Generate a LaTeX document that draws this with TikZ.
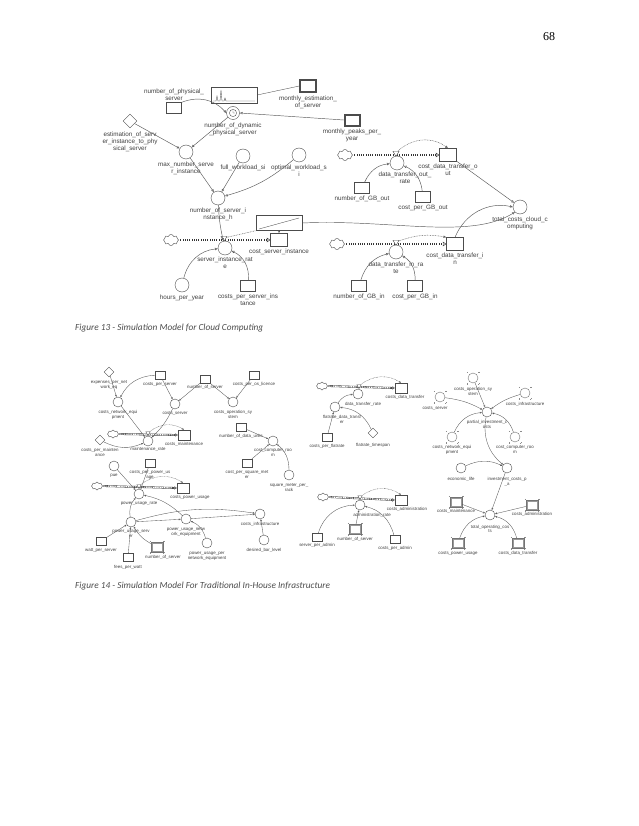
\documentclass[tikz,border=0pt]{standalone}
\usepackage{fontspec}
\setmainfont{Liberation Serif}
\newfontfamily\sdfont{Liberation Sans}
\newfontfamily\capfont{Carlito}
\usetikzlibrary{positioning,shapes.geometric,shapes.symbols,arrows.meta}

\tikzset{
  lbl/.style={font=\sdfont\fontsize{6.3}{6.8}\selectfont, align=center, inner sep=0pt, text=black!75},
  slbl/.style={font=\sdfont\fontsize{4.4}{4.9}\selectfont, align=center, inner sep=0pt, text=black!75},
  aux/.style={circle, draw=black!70, fill=white, minimum size=14pt, inner sep=0pt},
  saux/.style={aux, minimum size=10pt},
  const/.style={rectangle, draw=black!70, fill=white, minimum width=15pt, minimum height=11pt, inner sep=0pt},
  sconst/.style={const, minimum width=10pt, minimum height=8pt},
  stockbox/.style={rectangle, draw=black!70, fill=white, minimum width=17pt, minimum height=13pt, inner sep=0pt},
  sstock/.style={stockbox, minimum width=12pt, minimum height=10pt},
  ghostbox/.style={sconst, draw=black!55, minimum width=12pt, minimum height=10pt},
  gaux/.style={saux, draw=black!55},
  param/.style={diamond, draw=black!70, fill=white, aspect=1, minimum size=14pt, inner sep=0pt},
  sparam/.style={param, minimum size=10pt},
  source/.style={cloud, cloud puffs=8, aspect=1.4, draw=black!70, fill=white, minimum width=15pt, minimum height=11pt, inner sep=0pt},
  ssource/.style={source, minimum width=11pt, minimum height=8pt},
  valve/.style={regular polygon, regular polygon sides=3, shape border rotate=180, draw=black!70, fill=white, minimum size=7pt, inner sep=0pt},
  svalve/.style={valve, minimum size=5pt},
  graphbox/.style={rectangle, draw=black!70, fill=white, inner sep=0pt},
  trace/.style={draw=black!70, line width=0.35pt},
  ghostframe/.style={draw=black!40, line width=0.25pt},
  link/.style={draw=black!65, line width=0.45pt, -{Triangle[open, length=2.8pt, width=2.4pt]}},
  slink/.style={link, line width=0.35pt, -{Triangle[open, length=2pt, width=1.8pt]}},
  info/.style={link, dash pattern=on 0.8pt off 0.8pt},
  sinfo/.style={slink, dash pattern=on 0.7pt off 0.7pt},
  pipe/.style={line width=2.6pt, draw=black!80, -{Triangle[open, length=3.5pt, width=4.5pt, line width=0.5pt]},
    postaction={draw=white, -, line width=1.1pt, dash pattern=on 0.9pt off 0.9pt, shorten >=4pt}},
  spipe/.style={pipe, line width=1.8pt, -{Triangle[open, length=2.5pt, width=3.2pt, line width=0.4pt]},
    postaction={draw=white, -, line width=0.7pt, dash pattern=on 0.7pt off 0.7pt, shorten >=3pt}},
  ghostmark/.style={draw=black!45, line width=0.25pt},
  capt/.style={font=\capfont\itshape\fontsize{9.3}{11}\selectfont, text=black!70, inner sep=0pt},
  pagenum/.style={font=\fontsize{12}{14}\selectfont, inner sep=0pt},
}

% corner ticks of a shadow variable
\newcommand{\ghostmarks}[1]{%
  \foreach \vv/\hh/\dx/\dy in {north/west/-1/1, north/east/1/1, south/west/-1/-1, south/east/1/-1}{%
    \coordinate (gc) at (#1.\vv -| #1.\hh);
    \draw[ghostmark] ([shift={(\dx*1pt,\dy*1pt)}]gc) -- ++(-\dx*1.6pt,0pt)
      ([shift={(\dx*1pt,\dy*1pt)}]gc) -- ++(0pt,-\dy*1.6pt);}}
% second frame inside a box
\newcommand{\innerframe}[2][trace]{%
  \draw[#1] ([shift={(1.2pt,-1.2pt)}]#2.north west) rectangle ([shift={(-1.2pt,1.2pt)}]#2.south east);}

\begin{document}
\begin{tikzpicture}[x=1pt, y=-1pt]

  % Page
  \path[fill=white, use as bounding box] (0,0) rectangle (638,826);
  \node[pagenum] (pgno) at (549,37) {68};

  % ===== Figure 13 =====
  % Physical servers
  \node[const] (nphys) at (174,108) {};
  \node[lbl, above=2pt] (nphys-l) at (nphys.north) {number\_of\_physical\_\\server};
  \node[graphbox, minimum width=46pt, minimum height=16pt] (lookA) at (234,95) {};
  \draw[trace] (213,101) -- (216,101) -- (217,96) -- (218,101) -- (220,101) -- (221,90)
    -- (222,101) -- (224,101) -- (225,98) -- (226,101) -- (255,101);
  \node[aux, minimum size=13pt] (dyn) at (233,113) {};
  \draw[trace] (dyn) circle (3.6pt) (dyn.center) -- ++(0pt,2.4pt) (dyn.center) -- ++(1.8pt,0pt);
  \node[lbl, below=3pt] (dyn-l) at (dyn.south) {number\_of\_dynamic\\\_physical\_server};
  \node[stockbox] (monest) at (308,86) {};
  \innerframe{monest}
  \fill[black!70] (monest.north west) rectangle ++(2.2pt,-2.2pt);
  \node[lbl, below=3pt] (monest-l) at (monest.south) {monthly\_estimation\_\\of\_server};
  \node[stockbox, minimum width=16pt, minimum height=12pt] (monpk) at (352,120) {};
  \innerframe{monpk}
  \fill[black!70] (monpk.north west) rectangle ++(2.2pt,-2.2pt);
  \node[lbl, below=3pt] (monpk-l) at (monpk.south) {monthly\_peaks\_per\_\\year};

  % Server instances
  \node[param] (estim) at (130,121) {};
  \node[lbl, below=4pt] (estim-l) at (estim.south) {estimation\_of\_serv\\er\_instance\_to\_phy\\sical\_server};
  \node[aux] (maxn) at (186,152) {};
  \node[lbl, below=3pt] (maxn-l) at (maxn.south) {max\_number\_serve\\r\_instance};
  \node[aux] (fullw) at (243,156) {};
  \node[lbl, below=2pt] (fullw-l) at (fullw.south) {full\_workload\_si};
  \node[aux] (optw) at (299,155) {};
  \node[lbl, below=3pt] (optw-l) at (optw.south) {optimal\_workload\_s\\i};
  \node[aux] (nsih) at (218,198) {};
  \node[lbl, below=3pt] (nsih-l) at (nsih.south) {number\_of\_server\_i\\nstance\_h};

  % Server instance flow
  \node[source] (cloudA) at (171,240) {};
  \node[stockbox] (csi) at (279,240) {};
  \node[lbl, below=2pt] (csi-l) at (csi.south) {cost\_server\_instance};
  \draw[pipe] (cloudA.east) -- (csi.west);
  \node[valve] (vA) at (224,238) {};
  \node[aux] (sir) at (225,248) {};
  \node[lbl, below=2pt] (sir-l) at (sir.south) {server\_instance\_rat\\e};
  \node[graphbox, minimum width=46pt, minimum height=15pt] (lookB) at (279,223) {};
  \draw[trace] (259,229) -- (299,218);
  \node[aux] (hpy) at (182,285) {};
  \node[lbl, below=3pt] (hpy-l) at (hpy.south) {hours\_per\_year};
  \node[const] (cpsi) at (248,286) {};
  \node[lbl, below=2pt] (cpsi-l) at (cpsi.south) {costs\_per\_server\_ins\\tance};

  % Data transfer out
  \node[source] (cloudB) at (345,155) {};
  \node[stockbox] (cdto) at (448,155) {};
  \node[lbl, below=2pt] (cdto-l) at (cdto.south) {cost\_data\_transfer\_o\\ut};
  \draw[pipe] (cloudB.east) -- (cdto.west);
  \node[valve] (vB) at (396,153) {};
  \node[aux] (dtor) at (397,163) {};
  \node[lbl, below=2pt, xshift=8pt] (dtor-l) at (dtor.south) {data\_transfer\_out\_\\rate};
  \node[const] (gbout) at (362,188) {};
  \node[lbl, below=2pt] (gbout-l) at (gbout.south) {number\_of\_GB\_out};
  \node[const] (cpgbo) at (423,197) {};
  \node[lbl, below=2pt] (cpgbo-l) at (cpgbo.south) {cost\_per\_GB\_out};
  \node[aux] (total) at (520,207) {};
  \node[lbl, below=3pt] (total-l) at (total.south) {total\_costs\_cloud\_c\\omputing};

  % Data transfer in
  \node[source] (cloudC) at (337,244) {};
  \node[stockbox] (cdti) at (455,244) {};
  \node[lbl, below=2pt] (cdti-l) at (cdti.south) {cost\_data\_transfer\_i\\n};
  \draw[pipe] (cloudC.east) -- (cdti.west);
  \node[valve] (vC) at (396,242) {};
  \node[aux] (dtir) at (396,252) {};
  \node[lbl, below=3pt] (dtir-l) at (dtir.south) {data\_transfer\_in\_ra\\te};
  \node[const] (gbin) at (359,286) {};
  \node[lbl, below=2pt] (gbin-l) at (gbin.south) {number\_of\_GB\_in};
  \node[const] (cpgbi) at (415,286) {};
  \node[lbl, below=2pt] (cpgbi-l) at (cpgbi.south) {cost\_per\_GB\_in};

  % Connections
  \draw[link] (nphys.north east) to[bend left=35] (dyn.west);
  \draw[link] (monpk.west) -- (dyn.east);
  \draw[trace] (lookA.east) -- (monest.west);
  \draw[link] (estim) -- (maxn);
  \draw[link] (dyn) -- (maxn);
  \draw[link] (maxn) -- (nsih);
  \draw[link] (fullw) -- (nsih);
  \draw[link] (optw) to[bend left=12] (nsih);
  \draw[link] (nsih) to[bend right=5] (sir);
  \draw[link] (hpy) to[bend left=35] (sir);
  \draw[link] (cpsi) to[bend right=35] (sir);
  \draw[info, -] (vA) -- (lookB.south west);
  \draw[link] (lookB.south) -- (csi.north);
  \draw[link] (lookB.east) .. controls (390,219) and (470,240) .. (total.south west);
  \draw[info] (vB) to[bend left=40] (cdto.north);
  \draw[link] (gbout) to[bend left=30] (dtor);
  \draw[link] (cpgbo) to[bend right=30] (dtor);
  \draw[link] (cdto) -- (total);
  \draw[info] (vC) to[bend left=15] (cdti.north west);
  \draw[link] (gbin) to[bend left=30] (dtir);
  \draw[link] (cpgbi) to[bend right=30] (dtir);
  \draw[link] (cdti.north) to[bend left=40] (total.west);

  % Caption
  \node[capt, anchor=west] (cap13) at (75,328) {Figure 13 - Simulation Model for Cloud Computing};

  % ===== Figure 14 =====
  % Server costs
  \node[sparam] (expnet) at (109,372) {};
  \node[slbl, below=3pt] (expnet-l) at (expnet.south) {expenses\_per\_net\\work\_eq};
  \node[sconst] (cps) at (160,375) {};
  \node[slbl, below=3pt] (cps-l) at (cps.south) {costs\_per\_server};
  \node[sconst] (nos) at (205,379) {};
  \node[slbl, below=2pt] (nos-l) at (nos.south) {number\_of\_server};
  \node[sconst] (cpos) at (254,375) {};
  \node[slbl, below=3pt] (cpos-l) at (cpos.south) {costs\_per\_os\_licence};
  \node[saux] (cne) at (118,402) {};
  \node[slbl, below=3pt] (cne-l) at (cne.south) {costs\_network\_equi\\pment};
  \node[saux] (csrv) at (175,404) {};
  \node[slbl, below=2pt] (csrv-l) at (csrv.south) {costs\_server};
  \node[saux] (cos) at (233,402) {};
  \node[slbl, below=3pt] (cos-l) at (cos.south) {costs\_operation\_sy\\stem};

  % Maintenance flow
  \node[ssource] (cloudD) at (113,434) {};
  \node[sstock] (cmaint) at (184,435) {};
  \node[slbl, below=1.5pt] (cmaint-l) at (cmaint.south) {costs\_maintenance};
  \draw[spipe] (cloudD.east) -- (cmaint.west);
  \node[svalve] (vD) at (148,433) {};
  \node[saux] (mrate) at (148,441) {};
  \node[slbl, below=1pt] (mrate-l) at (mrate.south) {maintenance\_rate};
  \node[sparam] (cpm) at (100,440) {};
  \node[slbl, below=3pt] (cpm-l) at (cpm.south) {costs\_per\_mainten\\ance};

  % Computer room
  \node[sconst] (ndu) at (241,427) {};
  \node[slbl, below=3pt] (ndu-l) at (ndu.south) {number\_of\_data\_units};
  \node[saux] (ccr) at (273,441) {};
  \node[slbl, below=2pt] (ccr-l) at (ccr.south) {cost\_computer\_roo\\m};
  \node[sconst] (cpsm) at (247,463) {};
  \node[slbl, below=3pt] (cpsm-l) at (cpsm.south) {cost\_per\_square\_met\\er};
  \node[saux] (smpr) at (289,475) {};
  \node[slbl, below=3.5pt] (smpr-l) at (smpr.south) {square\_meter\_per\_\\rack};

  % Power usage flow
  \node[saux] (pue) at (114,466) {};
  \node[slbl, below=3pt] (pue-l) at (pue.south) {pue};
  \node[sconst] (cppu) at (150,463) {};
  \node[slbl, below=3pt] (cppu-l) at (cppu.south) {costs\_per\_power\_us\\age};
  \node[ssource] (cloudE) at (97,486) {};
  \node[sstock] (cpu) at (183,488) {};
  \node[slbl, below=2pt, xshift=7pt] (cpu-l) at (cpu.south) {costs\_power\_usage};
  \draw[spipe] (cloudE.east) -- (cpu.west);
  \node[svalve] (vE) at (139,486) {};
  \node[saux] (purate) at (139,494) {};
  \node[slbl, below=2pt] (purate-l) at (purate.south) {power\_usage\_rate};
  \node[saux] (pus) at (131,522) {};
  \node[slbl, below=3pt] (pus-l) at (pus.south) {power\_usage\_serv\\er};
  \node[saux] (pune) at (186,519) {};
  \node[slbl, below=3.5pt] (pune-l) at (pune.south) {power\_usage\_netw\\ork\_equipment};
  \node[saux] (cinf) at (260,514) {};
  \node[slbl, below=3pt] (cinf-l) at (cinf.south) {costs\_infrastructure};
  \node[sconst] (wps) at (101,541) {};
  \node[slbl, below=3pt] (wps-l) at (wps.south) {watt\_per\_server};
  \node[sconst] (fpw) at (128,557) {};
  \node[slbl, below=3.5pt] (fpw-l) at (fpw.south) {fees\_per\_watt};
  \node[ghostbox] (nos2) at (157,547) {};
  \innerframe[ghostframe]{nos2}
  \ghostmarks{nos2}
  \node[slbl, below=3pt, xshift=6pt] (nos2-l) at (nos2.south) {number\_of\_server};
  \node[saux] (pupne) at (207,543) {};
  \node[slbl, below=4pt] (pupne-l) at (pupne.south) {power\_usage\_per\\network\_equipment};
  \node[saux] (dbl) at (264,540) {};
  \node[slbl, below=3pt] (dbl-l) at (dbl.south) {desired\_bar\_level};

  % Data transfer flow
  \node[ssource] (cloudF) at (322,386) {};
  \node[sstock] (cdt) at (401,388) {};
  \node[slbl, below=2pt, xshift=4pt] (cdt-l) at (cdt.south) {costs\_data\_transfer};
  \draw[spipe] (cloudF.east) -- (cdt.west);
  \node[svalve] (vF) at (359,386) {};
  \node[saux] (dtr) at (358,394) {};
  \node[slbl, below=2.5pt, xshift=5pt] (dtr-l) at (dtr.south) {data\_transfer\_rate};
  \node[saux] (fdt) at (335,407) {};
  \node[slbl, below=3pt, xshift=7pt] (fdt-l) at (fdt.south) {flatrate\_data\_transf\\er};
  \node[sconst] (cpf) at (327,437) {};
  \node[slbl, below=3pt] (cpf-l) at (cpf.south) {costs\_per\_flatrate};
  \node[sparam] (fts) at (373,433) {};
  \node[slbl, below=4.5pt] (fts-l) at (fts.south) {flatrate\_timespan};

  % Administration flow
  \node[ssource] (cloudG) at (323,497) {};
  \node[sstock] (cadm) at (401,500) {};
  \node[slbl, below=1.5pt, xshift=6pt] (cadm-l) at (cadm.south) {costs\_administration};
  \draw[spipe] (cloudG.east) -- (cadm.west);
  \node[svalve] (vG) at (360,497) {};
  \node[saux] (arate) at (360,505) {};
  \node[slbl, below=3pt, xshift=12pt] (arate-l) at (arate.south) {administration\_rate};
  \node[sconst] (spa) at (317,537) {};
  \node[slbl, below=2pt] (spa-l) at (spa.south) {server\_per\_admin};
  \node[ghostbox] (nos3) at (355,529) {};
  \innerframe[ghostframe]{nos3}
  \ghostmarks{nos3}
  \node[slbl, below=3pt] (nos3-l) at (nos3.south) {number\_of\_server};
  \node[sconst] (cpa) at (395,539) {};
  \node[slbl, below=3pt] (cpa-l) at (cpa.south) {costs\_per\_admin};

  % Investment and operating costs
  \node[gaux] (gcos) at (473,378) {};
  \ghostmarks{gcos}
  \node[slbl, below=4pt] (gcos-l) at (gcos.south) {costs\_operation\_sy\\stem};
  \node[gaux] (gcsrv) at (440,397) {};
  \ghostmarks{gcsrv}
  \node[slbl, below=4pt, xshift=-5pt] (gcsrv-l) at (gcsrv.south) {costs\_server};
  \node[gaux] (gcinf) at (525,393) {};
  \ghostmarks{gcinf}
  \node[slbl, below=4pt] (gcinf-l) at (gcinf.south) {costs\_infrastructure};
  \node[saux] (pic) at (487,412) {};
  \node[slbl, below=3pt] (pic-l) at (pic.south) {partial\_investment\_c\\osts};
  \node[gaux] (gcne) at (452,437) {};
  \ghostmarks{gcne}
  \node[slbl, below=3pt] (gcne-l) at (gcne.south) {costs\_network\_equi\\pment};
  \node[gaux] (gccr) at (515,437) {};
  \ghostmarks{gccr}
  \node[slbl, below=3pt] (gccr-l) at (gccr.south) {cost\_computer\_roo\\m};
  \node[saux] (el) at (461,468) {};
  \node[slbl, below=4pt] (el-l) at (el.south) {economic\_life};
  \node[saux] (icpa) at (507,468) {};
  \node[slbl, below=4pt] (icpa-l) at (icpa.south) {investment\_costs\_p\\\_a};
  \node[saux] (toc) at (490,515) {};
  \node[slbl, below=4.5pt] (toc-l) at (toc.south) {total\_operating\_cos\\ts};
  \node[ghostbox] (gcm) at (456,502) {};
  \innerframe[ghostframe]{gcm}
  \ghostmarks{gcm}
  \node[slbl, below=2pt] (gcm-l) at (gcm.south) {costs\_maintenance};
  \node[ghostbox] (gcadm) at (532,505) {};
  \innerframe[ghostframe]{gcadm}
  \ghostmarks{gcadm}
  \node[slbl, below=2pt] (gcadm-l) at (gcadm.south) {costs\_administration};
  \node[ghostbox] (gcpu) at (458,543) {};
  \innerframe[ghostframe]{gcpu}
  \ghostmarks{gcpu}
  \node[slbl, below=3pt] (gcpu-l) at (gcpu.south) {costs\_power\_usage};
  \node[ghostbox] (gcdt) at (518,543) {};
  \innerframe[ghostframe]{gcdt}
  \ghostmarks{gcdt}
  \node[slbl, below=3pt] (gcdt-l) at (gcdt.south) {costs\_data\_transfer};

  % Connections
  \draw[slink] (expnet) -- (cne);
  \draw[slink] (cps) to[bend right=30] (cne);
  \draw[slink] (cps) -- (csrv);
  \draw[slink] (nos) -- (csrv);
  \draw[slink] (nos) -- (cos);
  \draw[slink] (cpos) -- (cos);
  \draw[sinfo] (vD) to[bend left=35] (cmaint.north);
  \draw[slink] (cne) -- (mrate);
  \draw[slink] (csrv) to[bend left=10] (mrate);
  \draw[slink] (cpm) to[bend right=25] (mrate);
  \draw[slink] (ndu) -- (ccr);
  \draw[slink] (cpsm) -- (ccr);
  \draw[slink] (smpr) to[bend right=25] (ccr);
  \draw[slink] (pue) -- (purate);
  \draw[slink] (cppu) -- (purate);
  \draw[sinfo] (vE) to[bend left=35] (cpu.north);
  \draw[slink] (pus) to[bend left=25] (purate);
  \draw[slink] (pune) to[bend right=15] (purate);
  \draw[slink] (wps) -- (pus);
  \draw[slink] (fpw) -- (pus);
  \draw[slink] (nos2) to[bend left=15] (pus);
  \draw[slink] (pus) -- (pune);
  \draw[slink] (pus) to[bend left=12] (cinf);
  \draw[slink] (pune) -- (cinf);
  \draw[slink] (pupne) to[bend right=25] (pune);
  \draw[slink] (dbl) -- (cinf);
  \draw[sinfo] (vF) to[bend left=35] (cdt.north);
  \draw[slink] (fdt) to[bend left=25] (dtr);
  \draw[slink] (cpf) -- (fdt);
  \draw[slink] (fts) to[bend right=30] (fdt);
  \draw[sinfo] (vG) to[bend left=35] (cadm.north);
  \draw[slink] (spa) to[bend left=35] (arate);
  \draw[slink] (nos3) -- (arate);
  \draw[slink] (cpa) to[bend right=30] (arate);
  \draw[slink] (gcos) -- (pic);
  \draw[slink] (gcsrv) to[bend left=10] (pic);
  \draw[slink] (gcinf) to[bend right=10] (pic);
  \draw[slink] (gcne) to[bend left=30] (pic);
  \draw[slink] (gccr) to[bend right=30] (pic);
  \draw[slink] (pic) to[bend right=30] (icpa);
  \draw[slink] (el) to[bend left=25] (icpa);
  \draw[slink] (icpa) -- (toc);
  \draw[slink] (gcm) -- (toc);
  \draw[slink] (gcadm) -- (toc);
  \draw[slink] (gcpu) to[bend left=30] (toc);
  \draw[slink] (gcdt) to[bend right=30] (toc);

  % Caption
  \node[capt, anchor=west] (cap14) at (75,586) {Figure 14 - Simulation Model For Traditional In-House Infrastructure};

\end{tikzpicture}
\end{document}
